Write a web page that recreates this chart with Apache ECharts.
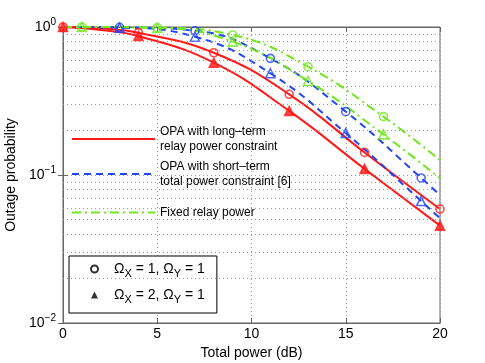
<!DOCTYPE html>
<html>
<head>
<meta charset="utf-8">
<script src="https://cdn.jsdelivr.net/npm/echarts@6/dist/echarts.min.js"></script>
<style>
html, body { margin: 0; padding: 0; background: #fff; }
#chart { width: 485px; height: 363px; }
</style>
</head>
<body>
<div id="chart"></div>
<script>
// values: [total power dB, outage probability]
var redOne = [[0, 1.0], [2, 0.975], [4, 0.915], [8, 0.67], [12, 0.351], [16, 0.142], [20, 0.0589]];
var redTwo = [[0, 1.0], [2, 0.955], [4, 0.87], [8, 0.574], [12, 0.271], [16, 0.110], [20, 0.0455]];
var blueOne = [[0, 1.0], [3, 0.995], [7, 0.944], [11, 0.614], [15, 0.268], [19, 0.0955], [20, 0.073]];
var blueTwo = [[0, 1.0], [3, 0.99], [7, 0.86], [11, 0.487], [15, 0.192], [19, 0.0667], [20, 0.051]];
var greenOne = [[0, 1.0], [1, 1.0], [5, 0.99], [9, 0.883], [13, 0.539], [17, 0.248], [20, 0.126]];
var greenTwo = [[0, 1.0], [1, 1.0], [5, 0.985], [9, 0.796], [13, 0.432], [17, 0.188], [20, 0.095]];

// x positions where markers sit
var redMarkX = [0, 4, 8, 12, 16, 20];
var blueMarkX = [3, 7, 11, 15, 19];
var greenMarkX = [1, 5, 9, 13, 17];

var xTicks = [0, 5, 10, 15, 20];
var yMinorGrid = [0.02, 0.03, 0.04, 0.05, 0.06, 0.07, 0.08, 0.09, 0.2, 0.3, 0.4, 0.5, 0.6, 0.7, 0.8, 0.9];

var RED = '#ff1a1a', BLUE = '#2245f5', GREEN = '#72e61e';
var FONT = 'Liberation Sans';

var lineNames = {
    lt: 'OPA with long\u2013term\nrelay power constraint',
    st: 'OPA with short\u2013term\ntotal power constraint [6]',
    fx: 'Fixed relay power'
};

function pick(data, xs) {
    return data.filter(function (p) { return xs.indexOf(p[0]) >= 0; });
}

function curve(name, data, color, type) {
    return {
        name: name, type: 'line', data: data, symbol: 'none',
        smooth: 0.45,
        lineStyle: { color: color, width: 2, type: type },
        itemStyle: { color: color },
        z: 3
    };
}

function marks(data, color, shape, fill) {
    return {
        type: 'scatter', data: data, symbol: shape,
        symbolSize: shape == 'triangle' ? 9 : 8,
        itemStyle: { color: fill ? color : 'rgba(0,0,0,0)', borderColor: color, borderWidth: 1.6 },
        z: 4
    };
}

var chart = echarts.init(document.getElementById('chart'));

var series = [
    curve('lt', redOne, RED, 'solid'),
    curve('lt', redTwo, RED, 'solid'),
    curve('st', blueOne, BLUE, [7, 5]),
    curve('st', blueTwo, BLUE, [7, 5]),
    curve('fx', greenOne, GREEN, [9, 4, 2, 4]),
    curve('fx', greenTwo, GREEN, [9, 4, 2, 4]),
    marks(pick(redOne, redMarkX), RED, 'circle', false),
    marks(pick(redTwo, redMarkX), RED, 'triangle', true),
    marks(pick(blueOne, blueMarkX), BLUE, 'circle', false),
    marks(pick(blueTwo, blueMarkX), BLUE, 'triangle', false),
    marks(pick(greenOne, greenMarkX), GREEN, 'circle', false),
    marks(pick(greenTwo, greenMarkX), GREEN, 'triangle', false),
    {
        name: 'm1', type: 'scatter', data: [], symbol: 'circle',
        itemStyle: { color: '#fff', borderColor: '#000', borderWidth: 2 }
    },
    {
        name: 'm2', type: 'scatter', data: [], symbol: 'triangle',
        itemStyle: { color: '#000', borderWidth: 0 }
    },
    {
        // minor log grid lines
        type: 'line', data: [], silent: true,
        markLine: {
            silent: true, symbol: 'none', label: { show: false },
            lineStyle: { color: '#999', type: [1, 3], width: 1 },
            data: yMinorGrid.map(function (v) { return { yAxis: v }; })
        }
    }
];

function lineLegend(key, top) {
    return {
        data: [key], left: 71, top: top, orient: 'vertical',
        itemWidth: 83, itemHeight: 10, padding: 0,
        itemStyle: { opacity: 0 },
        formatter: function (n) { return lineNames[n]; },
        textStyle: { fontFamily: FONT, fontSize: 12, color: '#000', lineHeight: 15 },
        selectedMode: false
    };
}

var option = {
    animation: false,
    backgroundColor: '#fff',
    grid: { left: 63, right: 45, top: 27, bottom: 40, outerBoundsMode: 'none',
            show: true, borderColor: '#666', borderWidth: 1 },
    legend: [
        lineLegend('lt', 124),
        lineLegend('st', 159),
        lineLegend('fx', 205),
        {
            data: ['m1', 'm2'], orient: 'vertical', left: 69, top: 256,
            padding: [3, 12, 8, 21], itemGap: 6,
            itemWidth: 7, itemHeight: 7,
            backgroundColor: '#fff', borderColor: '#000', borderWidth: 1,
            selectedMode: false,
            formatter: function (n) {
                var a = n == 'm1' ? '1' : '2';
                return '{g|}{t|\u03a9}{s|X}{t| = ' + a + ', \u03a9}{s|Y}{t| = 1}';
            },
            textStyle: {
                fontFamily: FONT, color: '#000',
                rich: {
                    g: { width: 11 },
                    t: { fontFamily: FONT, fontSize: 14, color: '#000', lineHeight: 20 },
                    s: { fontFamily: FONT, fontSize: 11, color: '#000', padding: [9, 0, 0, 0], lineHeight: 20 }
                }
            }
        }
    ],
    xAxis: [{
        type: 'value', min: 0, max: 20, interval: 5,
        name: 'Total power (dB)', nameLocation: 'middle', nameGap: 20,
        nameTextStyle: { fontFamily: FONT, fontSize: 14, color: '#000' },
        axisLine: { lineStyle: { color: '#666' } },
        axisTick: { inside: true, length: 5, lineStyle: { color: '#666' } },
        axisLabel: { fontFamily: FONT, fontSize: 14, color: '#000', margin: 4,
                     formatter: function (v) { return xTicks.indexOf(v) >= 0 ? String(v) : ''; } },
        splitLine: { show: true, lineStyle: { color: '#999', type: [1, 3] } }
    }, {
        type: 'value', position: 'top', min: 0, max: 20, interval: 5,
        axisLine: { show: true, lineStyle: { color: '#666' } },
        axisTick: { inside: true, length: 5, lineStyle: { color: '#666' } },
        axisLabel: { show: false }, splitLine: { show: false }
    }],
    yAxis: [{
        type: 'log', logBase: 10, min: 0.01, max: 1,
        name: 'Outage probability', nameLocation: 'middle', nameGap: 38,
        nameTextStyle: { fontFamily: FONT, fontSize: 14, color: '#000' },
        axisLine: { show: true, lineStyle: { color: '#666' } },
        axisTick: { inside: true, length: 5, lineStyle: { color: '#666' } },
        axisLabel: {
            margin: 7,
            formatter: function (v) {
                var e = Math.round(Math.log10(v));
                return '{b|10}{e|' + (e < 0 ? '\u2212' + (-e) : e) + '}';
            },
            rich: {
                b: { fontFamily: FONT, fontSize: 14, color: '#000' },
                e: { fontFamily: FONT, fontSize: 10, color: '#000', padding: [0, 0, 10, 0] }
            }
        },
        splitLine: { show: true, lineStyle: { color: '#999', type: [1, 3] } }
    }, {
        type: 'log', logBase: 10, min: 0.01, max: 1, position: 'right',
        axisLine: { show: true, lineStyle: { color: '#666' } },
        axisTick: { inside: true, length: 5, lineStyle: { color: '#666' } },
        axisLabel: { show: false }, splitLine: { show: false }
    }],
    series: series
};

chart.setOption(option);
</script>
</body>
</html>
